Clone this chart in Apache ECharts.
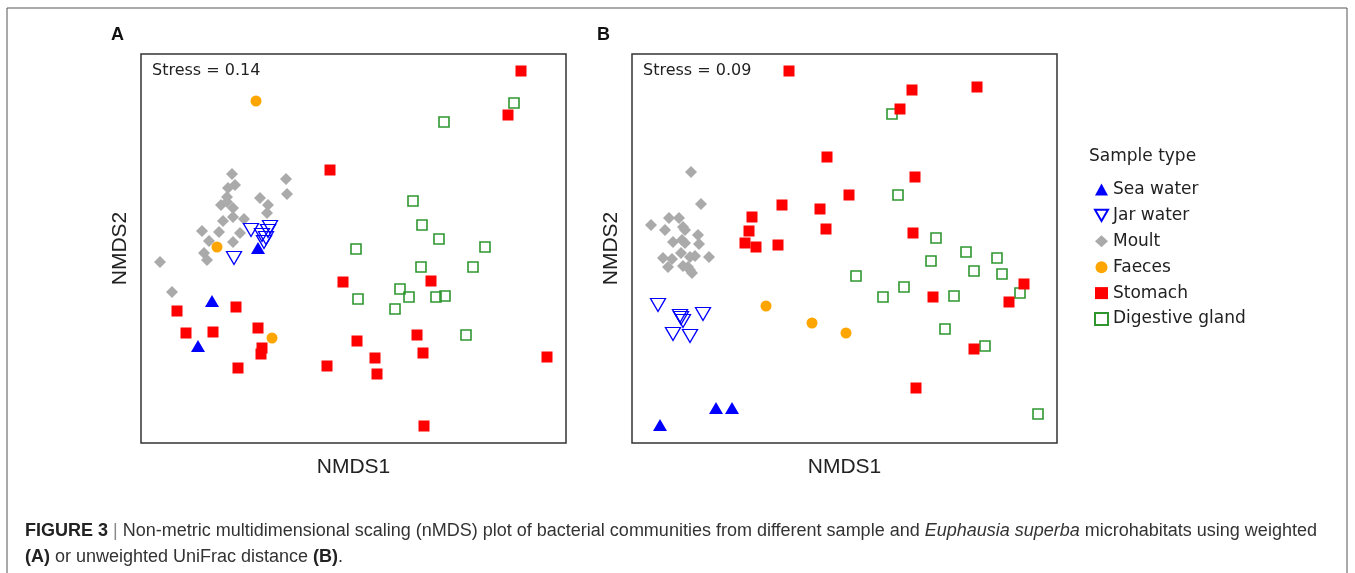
<!DOCTYPE html>
<html>
<head>
<meta charset="utf-8">
<script src="https://cdn.jsdelivr.net/npm/echarts@6/dist/echarts.min.js"></script>
<style>
  html, body { margin: 0; padding: 0; background: #fff; }
  #chart { width: 1355px; height: 573px; }
</style>
</head>
<body>
<div id="chart"></div>
<script>
// nMDS coordinates (panel A = weighted, panel B = unweighted UniFrac)
const seaWaterA = [[-0.191, 0.001], [-0.283, -0.105], [-0.311, -0.195]];
const jarWaterA = [[-0.205, 0.037], [-0.167, 0.043], [-0.171, 0.035], [-0.183, 0.027],
  [-0.175, 0.021], [-0.179, 0.013], [-0.239, -0.019]];
const moultA = [[-0.243, 0.149], [-0.237, 0.127], [-0.251, 0.121], [-0.253, 0.103], [-0.265, 0.087],
  [-0.253, 0.093], [-0.241, 0.081], [-0.241, 0.063], [-0.261, 0.055], [-0.219, 0.059],
  [-0.303, 0.035], [-0.269, 0.033], [-0.227, 0.031], [-0.289, 0.015], [-0.241, 0.013],
  [-0.299, -0.009], [-0.293, -0.023], [-0.387, -0.027], [-0.363, -0.087], [-0.187, 0.101],
  [-0.171, 0.087], [-0.173, 0.071], [-0.135, 0.139], [-0.133, 0.109]];
const faecesA = [[-0.195, 0.295], [-0.273, 0.003], [-0.163, -0.179]];
const stomachA = [[-0.047, 0.157], [-0.353, -0.125], [-0.235, -0.117], [-0.335, -0.169], [-0.281, -0.167],
  [-0.191, -0.159], [-0.183, -0.199], [-0.185, -0.211], [-0.231, -0.239], [-0.053, -0.235],
  [-0.021, -0.067], [0.007, -0.185], [0.335, 0.355], [0.309, 0.267], [0.155, -0.065],
  [0.127, -0.173], [0.043, -0.219], [0.047, -0.251], [0.139, -0.209], [0.387, -0.217], [0.141, -0.355]];
const glandA = [[0.321, 0.291], [0.181, 0.253], [0.119, 0.095], [0.137, 0.047], [0.171, 0.019],
  [0.005, -0.001], [0.263, 0.003], [0.135, -0.037], [0.239, -0.037], [0.093, -0.081],
  [0.111, -0.097], [0.009, -0.101], [0.165, -0.097], [0.183, -0.095], [0.083, -0.121], [0.225, -0.173]];

const seaWaterB = [[-0.369, -0.353], [-0.257, -0.319], [-0.225, -0.319]];
const jarWaterB = [[-0.373, -0.113], [-0.329, -0.135], [-0.323, -0.145], [-0.327, -0.139],
  [-0.283, -0.131], [-0.343, -0.171], [-0.309, -0.175]];
const moultB = [[-0.307, 0.153], [-0.287, 0.089], [-0.387, 0.047], [-0.351, 0.061], [-0.331, 0.061],
  [-0.359, 0.037], [-0.323, 0.043], [-0.319, 0.037], [-0.293, 0.027], [-0.343, 0.013],
  [-0.325, 0.017], [-0.319, 0.011], [-0.291, 0.009], [-0.327, -0.009], [-0.309, -0.017],
  [-0.299, -0.015], [-0.271, -0.017], [-0.363, -0.019], [-0.345, -0.021], [-0.353, -0.037],
  [-0.323, -0.035], [-0.313, -0.037], [-0.305, -0.049], [-0.309, -0.043]];
const faecesB = [[-0.157, -0.115], [-0.065, -0.149], [0.003, -0.169]];
const stomachB = [[-0.111, 0.355], [-0.035, 0.183], [-0.125, 0.087], [-0.049, 0.079], [-0.185, 0.063],
  [-0.037, 0.039], [-0.191, 0.035], [-0.199, 0.011], [-0.177, 0.003], [-0.133, 0.007],
  [0.009, 0.107], [0.135, 0.317], [0.265, 0.323], [0.111, 0.279], [0.141, 0.143],
  [0.137, 0.031], [0.177, -0.097], [0.359, -0.071], [0.329, -0.107], [0.259, -0.201], [0.143, -0.279]];
const glandB = [[0.095, 0.269], [0.107, 0.107], [0.183, 0.021], [0.243, -0.007], [0.305, -0.019],
  [0.173, -0.025], [0.259, -0.045], [0.315, -0.051], [0.023, -0.055], [0.119, -0.077],
  [0.077, -0.097], [0.219, -0.095], [0.351, -0.089], [0.201, -0.161], [0.281, -0.195], [0.387, -0.331]];

const sampleTypes = ['Sea water', 'Jar water', 'Moult', 'Faeces', 'Stomach', 'Digestive gland'];
const stressLabels = ['Stress = 0.14', 'Stress = 0.09'];

const styles = {
  'Sea water': { symbol: 'triangle', symbolSize: [14, 12], itemStyle: { color: '#0000ff', opacity: 1 } },
  'Jar water': { symbol: 'path://M0,0L10,0L5,8.66Z', symbolSize: [15, 13],
    itemStyle: { color: 'rgba(255,255,255,0)', borderColor: '#0000ff', borderWidth: 1.3, opacity: 1 } },
  'Moult': { symbol: 'diamond', symbolSize: 12, itemStyle: { color: '#aaaaaa', opacity: 1 } },
  'Faeces': { symbol: 'circle', symbolSize: 11, itemStyle: { color: '#ffa500', opacity: 1 } },
  'Stomach': { symbol: 'rect', symbolSize: 11, itemStyle: { color: '#ff0000', opacity: 1 } },
  'Digestive gland': { symbol: 'rect', symbolSize: 10,
    itemStyle: { color: 'rgba(255,255,255,0)', borderColor: '#2f962f', borderWidth: 1.6, opacity: 1 } }
};

function makeSeries(name, data, idx) {
  const s = styles[name];
  return {
    name: name,
    type: 'scatter',
    xAxisIndex: idx,
    yAxisIndex: idx,
    data: data,
    symbol: s.symbol,
    symbolSize: s.symbolSize,
    itemStyle: s.itemStyle,
    emphasis: { disabled: true },
    animation: false
  };
}

// draw order: gland under stomach, moult under water/faeces
const series = [
  makeSeries('Digestive gland', glandA, 0),
  makeSeries('Stomach', stomachA, 0),
  makeSeries('Moult', moultA, 0),
  makeSeries('Faeces', faecesA, 0),
  makeSeries('Jar water', jarWaterA, 0),
  makeSeries('Sea water', seaWaterA, 0),
  makeSeries('Digestive gland', glandB, 1),
  makeSeries('Stomach', stomachB, 1),
  makeSeries('Moult', moultB, 1),
  makeSeries('Faeces', faecesB, 1),
  makeSeries('Jar water', jarWaterB, 1),
  makeSeries('Sea water', seaWaterB, 1)
];

function xAxisFor(idx) {
  return {
    gridIndex: idx, type: 'value', min: -0.425, max: 0.425,
    name: 'NMDS1', nameLocation: 'middle', nameGap: 14,
    nameTextStyle: { fontFamily: 'Liberation Sans', fontSize: 21, color: '#222', verticalAlign: 'top' },
    axisLine: { show: false }, axisTick: { show: false }, axisLabel: { show: false }, splitLine: { show: false }
  };
}
function yAxisFor(idx) {
  return {
    gridIndex: idx, type: 'value', min: -0.389, max: 0.389,
    name: 'NMDS2', nameLocation: 'middle', nameGap: 10,
    nameTextStyle: { fontFamily: 'Liberation Sans', fontSize: 21, color: '#222' },
    axisLine: { show: false }, axisTick: { show: false }, axisLabel: { show: false }, splitLine: { show: false }
  };
}

const chart = echarts.init(document.getElementById('chart'), null, { renderer: 'canvas' });

chart.setOption({
  backgroundColor: '#fff',
  animation: false,
  grid: [
    { left: 141, top: 54, width: 425, height: 389, show: true, borderColor: '#333', borderWidth: 1.5 },
    { left: 632, top: 54, width: 425, height: 389, show: true, borderColor: '#333', borderWidth: 1.5 }
  ],
  xAxis: [xAxisFor(0), xAxisFor(1)],
  yAxis: [yAxisFor(0), yAxisFor(1)],
  legend: {
    data: sampleTypes,
    orient: 'vertical',
    left: 1094,
    top: 181,
    padding: 0,
    itemWidth: 13,
    itemHeight: 12,
    itemGap: 8.9,
    selectedMode: false,
    textStyle: { fontFamily: 'DejaVu Sans', fontSize: 17, color: '#222' }
  },
  graphic: [
    { type: 'rect', silent: true, z: -1, shape: { x: 7, y: 8, width: 1340, height: 620 },
      style: { fill: 'none', stroke: '#555', lineWidth: 1 } },
    { type: 'text', left: 111, top: 26,
      style: { text: 'A', font: 'bold 18px "Liberation Sans"', fill: '#111' } },
    { type: 'text', left: 597, top: 26,
      style: { text: 'B', font: 'bold 18px "Liberation Sans"', fill: '#111' } },
    { type: 'text', left: 152, top: 63,
      style: { text: stressLabels[0], font: '16px "DejaVu Sans"', fill: '#222' } },
    { type: 'text', left: 643, top: 63,
      style: { text: stressLabels[1], font: '16px "DejaVu Sans"', fill: '#222' } },
    { type: 'text', left: 1089, top: 148,
      style: { text: 'Sample type', font: '17px "DejaVu Sans"', fill: '#222' } },
    { type: 'text', left: 25, top: 518,
      style: {
        text: '{b|FIGURE 3} {s||} Non-metric multidimensional scaling (nMDS) plot of bacterial communities from different sample and {i|Euphausia superba} microhabitats using weighted\n{b|(A)} or unweighted UniFrac distance {b|(B)}.',
        font: '18px "Liberation Sans"', fill: '#333', lineHeight: 26,
        rich: {
          b: { font: 'bold 18px "Liberation Sans"', fill: '#222', lineHeight: 26 },
          s: { font: '18px "Liberation Sans"', fill: '#888', lineHeight: 26 },
          i: { font: 'italic 18px "Liberation Sans"', fill: '#333', lineHeight: 26 }
        }
      } }
  ],
  series: series
});
</script>
</body>
</html>
